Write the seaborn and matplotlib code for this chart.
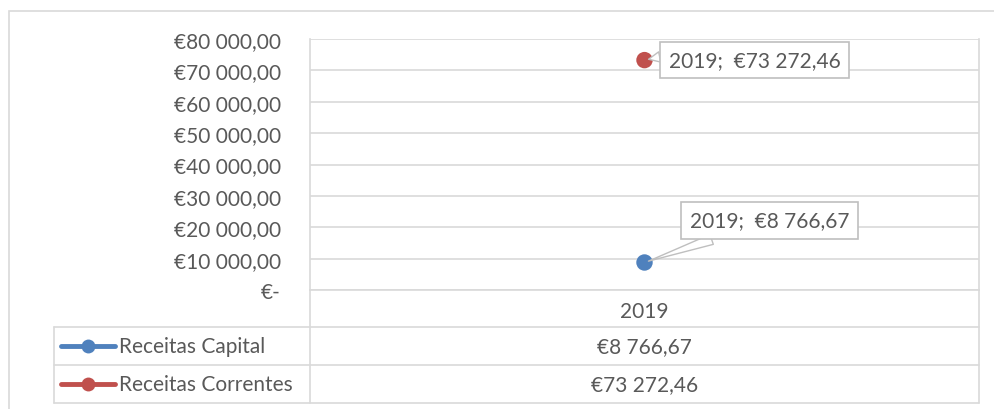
import pandas as pd
import matplotlib.pyplot as plt
import seaborn as sns
from matplotlib.lines import Line2D
from matplotlib.patches import Rectangle
from matplotlib.ticker import FuncFormatter

sns.set_style("white")
plt.rcParams["font.family"] = ["Lato", "DejaVu Sans"]

# data
years = ["2019"]
series = ["Receitas Capital", "Receitas Correntes"]
capital = [8766.67]
correntes = [73272.46]
colors = ["#4F81BD", "#C0504D"]

TXT = "#595959"
GRID = "#D9D9D9"
FS = 15

W, H = 995, 410


def euro(v):
    if v == 0:
        return "€-"
    return "€" + f"{v:,.2f}".replace(",", " ").replace(".", ",")


def fx(px):
    return px / W


def fy(py):
    return 1 - py / H


df = pd.DataFrame({
    "ano": years * 2,
    "valor": capital + correntes,
    "serie": [series[0]] * len(years) + [series[1]] * len(years),
})

fig = plt.figure(figsize=(W / 100, H / 100), dpi=100)

# outer chart border
fig.add_artist(Rectangle((fx(8.5), fy(430)), fx(1000), fy(11.5) - fy(430),
                         transform=fig.transFigure, fill=False, edgecolor=GRID, lw=1.2))

x0, x1, y0, y1 = 310, 979, 40, 291
ax = fig.add_axes([fx(x0), fy(y1), fx(x1) - fx(x0), fy(y0) - fy(y1)])

sns.scatterplot(data=df, x="ano", y="valor", hue="serie", palette=colors,
                s=140, edgecolor="none", legend=False, ax=ax, zorder=5)

ax.set_xlim(-0.5, 0.5)
ax.set_ylim(0, 80000)
ax.set_yticks(range(0, 80001, 10000))
ax.yaxis.set_major_formatter(FuncFormatter(lambda v, p: euro(v)))
ax.yaxis.grid(True, color=GRID, lw=1.2)
ax.set_axisbelow(True)
ax.set_xlabel("")
ax.set_ylabel("")
ax.tick_params(axis="y", length=0, pad=21, labelsize=FS, labelcolor=TXT)
ax.tick_params(axis="x", length=0, pad=8, labelsize=FS, labelcolor=TXT)
for side in ["left", "right"]:
    ax.spines[side].set_color(GRID)
    ax.spines[side].set_linewidth(1.2)
ax.spines["top"].set_visible(False)
ax.spines["bottom"].set_color(GRID)
ax.spines["bottom"].set_linewidth(1.2)

# data labels
offsets = [(125, 42), (110, 0)]
relpos = [(0.3, 0.0), (0.0, 0.75)]
for vals, off, rp in zip([capital, correntes], offsets, relpos):
    for yr, v in zip(years, vals):
        ax.annotate(f"{yr};  {euro(v)}", xy=(yr, v), xytext=off,
                    textcoords="offset pixels", ha="center", va="center",
                    fontsize=FS, color=TXT,
                    bbox=dict(boxstyle="square,pad=0.4", fc="white", ec="#BFBFBF", lw=1.2),
                    arrowprops=dict(arrowstyle="wedge,tail_width=0.5,shrink_factor=0.5",
                                    fc="white", ec="#BFBFBF", lw=1.0, shrinkA=0, shrinkB=3,
                                    relpos=rp),
                    zorder=6)

# data table
rows_y = [328, 366, 404]
for ry in rows_y:
    fig.add_artist(Line2D([fx(54), fx(x1)], [fy(ry), fy(ry)], color=GRID, lw=1.2))
for vx, top in [(54, 328), (x0, y1), (x1, y1)]:
    fig.add_artist(Line2D([fx(vx), fx(vx)], [fy(top), fy(404)], color=GRID, lw=1.2))

for i, (name, vals, c) in enumerate(zip(series, [capital, correntes], colors)):
    cy = (rows_y[i] + rows_y[i + 1]) / 2
    fig.add_artist(Line2D([fx(61), fx(115)], [fy(cy), fy(cy)], color=c, lw=3.5,
                          solid_capstyle="round"))
    fig.add_artist(Line2D([fx(88)], [fy(cy)], color=c, marker="o", markersize=10,
                          markeredgewidth=0))
    fig.text(fx(119), fy(cy), name, ha="left", va="center", fontsize=FS, color=TXT)
    fig.text(fx((x0 + x1) / 2), fy(cy), euro(vals[0]), ha="center", va="center",
             fontsize=FS, color=TXT)

fig.savefig("out.png", dpi=100)
